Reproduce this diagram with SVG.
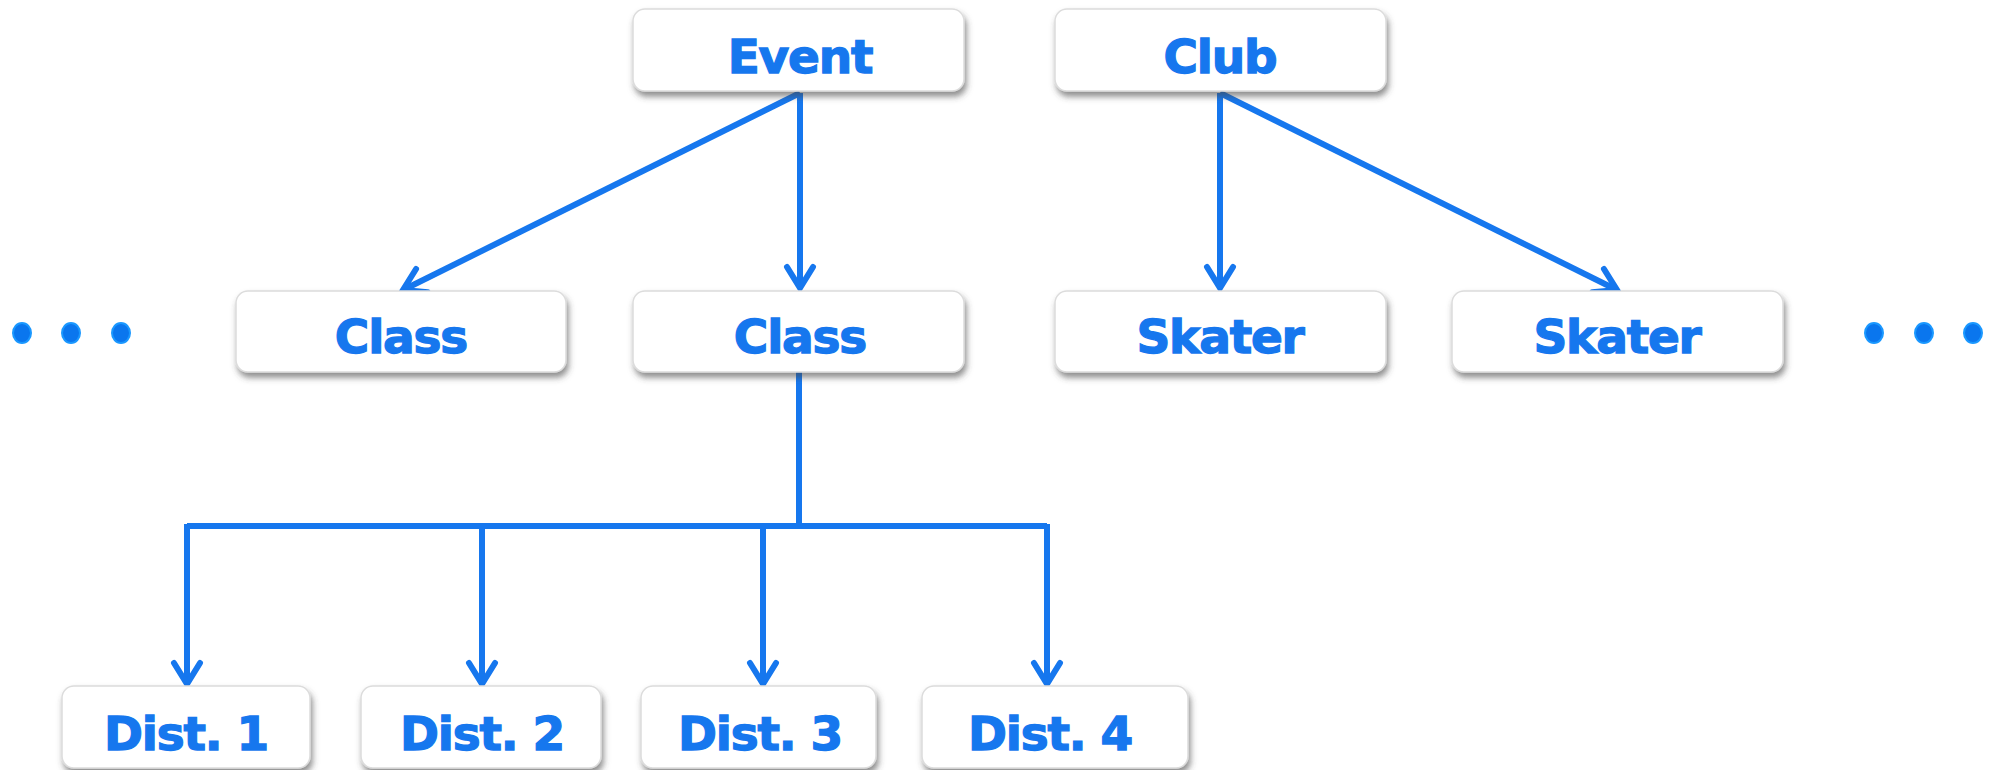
<svg xmlns="http://www.w3.org/2000/svg" width="1997" height="770" viewBox="0 0 1997 770">
<style>
.box{fill:#ffffff;stroke:#dcdcdc;stroke-width:1.5;filter:url(#sh)}
.lbl{font-family:"DejaVu Sans","Verdana",sans-serif;font-weight:bold;font-size:47px;fill:#1677ee;stroke:#1677ee;stroke-width:1.3;text-anchor:middle;letter-spacing:-1.2px}
.ln{fill:none;stroke:#1677ee;stroke-width:6}
.dot{fill:#0a76ee;stroke:#1a98ff;stroke-width:2}
</style>
<defs>
<filter id="sh" x="-10%" y="-20%" width="120%" height="150%">
<feDropShadow dx="2" dy="5" stdDeviation="3" flood-color="#444" flood-opacity="0.6"/>
</filter>
<marker id="ah" markerUnits="userSpaceOnUse" viewBox="-26 -17 30 34" markerWidth="30" markerHeight="34" refX="0" refY="0" orient="auto">
<path d="M-21,-13 L0,0 L-21,13" fill="none" stroke="#1677ee" stroke-width="6" stroke-linecap="round" stroke-linejoin="miter"/>
</marker>
</defs>
<g id="connectors">
<line class="ln" x1="800" y1="93" x2="403" y2="290" marker-end="url(#ah)"/>
<line class="ln" x1="800" y1="93" x2="800" y2="288" marker-end="url(#ah)"/>
<line class="ln" x1="1220" y1="93" x2="1220" y2="288" marker-end="url(#ah)"/>
<line class="ln" x1="1220" y1="93" x2="1617" y2="290" marker-end="url(#ah)"/>
<polyline class="ln" points="799,372 799,526"/>
<line class="ln" x1="187" y1="526" x2="1047" y2="526"/>
<line class="ln" x1="187" y1="524" x2="187" y2="684" marker-end="url(#ah)"/>
<line class="ln" x1="482" y1="526" x2="482" y2="684" marker-end="url(#ah)"/>
<line class="ln" x1="763" y1="526" x2="763" y2="684" marker-end="url(#ah)"/>
<line class="ln" x1="1047" y1="524" x2="1047" y2="684" marker-end="url(#ah)"/>
</g>
<g id="event"><rect class="box" x="633" y="9" width="331" height="82" rx="12"/><text class="lbl" x="800" y="73">Event</text></g>
<g id="club"><rect class="box" x="1055" y="9" width="331" height="82" rx="12"/><text class="lbl" x="1220" y="73">Club</text></g>
<g id="class1"><rect class="box" x="236" y="291" width="330" height="81" rx="12"/><text class="lbl" x="401" y="353">Class</text></g>
<g id="class2"><rect class="box" x="633" y="291" width="331" height="81" rx="12"/><text class="lbl" x="800" y="353">Class</text></g>
<g id="skater1"><rect class="box" x="1055" y="291" width="331" height="81" rx="12"/><text class="lbl" x="1220" y="353">Skater</text></g>
<g id="skater2"><rect class="box" x="1452" y="291" width="331" height="81" rx="12"/><text class="lbl" x="1617" y="353">Skater</text></g>
<g id="dist1"><rect class="box" x="62" y="686" width="248" height="82" rx="12"/><text class="lbl" x="186" y="750">Dist. 1</text></g>
<g id="dist2"><rect class="box" x="361" y="686" width="240" height="82" rx="12"/><text class="lbl" x="482" y="750">Dist. 2</text></g>
<g id="dist3"><rect class="box" x="641" y="686" width="235" height="82" rx="12"/><text class="lbl" x="760" y="750">Dist. 3</text></g>
<g id="dist4"><rect class="box" x="922" y="686" width="266" height="82" rx="12"/><text class="lbl" x="1050" y="750">Dist. 4</text></g>
<g id="dots-left"><ellipse class="dot" cx="22" cy="333" rx="9" ry="10"/><ellipse class="dot" cx="71" cy="333" rx="9" ry="10"/><ellipse class="dot" cx="121" cy="333" rx="9" ry="10"/></g>
<g id="dots-right"><ellipse class="dot" cx="1874" cy="333" rx="9" ry="10"/><ellipse class="dot" cx="1924" cy="333" rx="9" ry="10"/><ellipse class="dot" cx="1973" cy="333" rx="9" ry="10"/></g>
</svg>
